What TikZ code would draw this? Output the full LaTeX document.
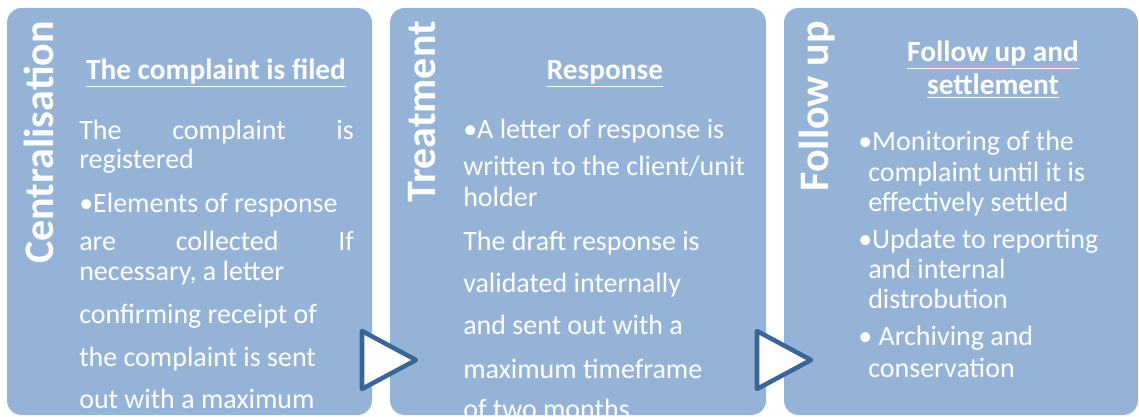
\documentclass[tikz,border=0pt]{standalone}
\usepackage{fontspec}
\setmainfont{Carlito}
\usetikzlibrary{positioning}
\definecolor{boxblue}{HTML}{95B3D7}
\definecolor{arrowblue}{HTML}{3A6597}
\tikzstyle{stagebox}=[fill=boxblue, rounded corners=11pt]
\tikzstyle{stagetitle}=[rotate=90, anchor=base east, inner sep=0pt, text=white, font=\fontsize{31.5}{32}\selectfont\bfseries]
\tikzstyle{heading}=[anchor=base, inner sep=0pt, text=white, font=\fontsize{22}{24}\selectfont\bfseries]
\tikzstyle{bodyline}=[anchor=base west, inner sep=0pt, text=white, font=\fontsize{21}{23}\selectfont]
\tikzstyle{chevron}=[draw=arrowblue, line width=3.4pt, fill=white, line join=round]

\begin{document}
\begin{tikzpicture}[x=0.75pt, y=-0.75pt]
    \useasboundingbox (0,0) rectangle (1139,417);

    % the three stages
    \foreach \x/\w in {7/365, 390/376, 784/354}
        \path[stagebox] (\x,8) rectangle +(\w,407);

    \foreach \x/\name/\txt in {53/central/Centralisation, 435/treat/Treatment, 828/follow/Follow up}
        \node[stagetitle] (\name) at (\x,21) {\txt};

    \node[heading] (filed) at (216,80) {\underline{The complaint is filed}};
    \node[heading] (resp) at (605,80) {\underline{Response}};
    \node[heading] (settleA) at (993,62) {\underline{Follow up and}};
    \node[heading] (settleB) at (993,95) {\underline{settlement}};

    % centralisation text
    \foreach \y/\txt [count=\i] in {140/{\makebox[206pt][s]{The complaint is}}, 169/registered,
            213/{•Elements of response}, 250/{\makebox[206pt][s]{are collected If}},
            281/{necessary, a letter}, 323/{confirming receipt of},
            366/{the complaint is sent}, 408/{out with a maximum}}
        \node[bodyline] (c\i) at (79,\y) {\txt};

    % treatment text
    \foreach \y/\txt [count=\i] in {139/{•A letter of response is}, 176/{written to the client/unit},
            207/holder, 250/{The draft response is}, 292/{validated internally},
            334/{and sent out with a}, 378/{maximum timeframe}, 418/{of two months}}
        \node[bodyline] (t\i) at (463,\y) {\txt};

    % follow up text
    \foreach \x/\y/\txt [count=\i] in {858/151/{•Monitoring of the}, 868/182/{complaint until it is},
            868/212/{effectively settled}, 858/248/{•Update to reporting},
            868/278/{and internal}, 868/308/distrobution,
            858/345/{• Archiving and}, 868/377/conservation}
        \node[bodyline] (f\i) at (\x,\y) {\txt};

    % arrows between the stages
    \foreach \x in {362, 757}
        \draw[chevron] (\x,331) -- ++(54,29) -- ++(-54,29) -- cycle;

\end{tikzpicture}
\end{document}
